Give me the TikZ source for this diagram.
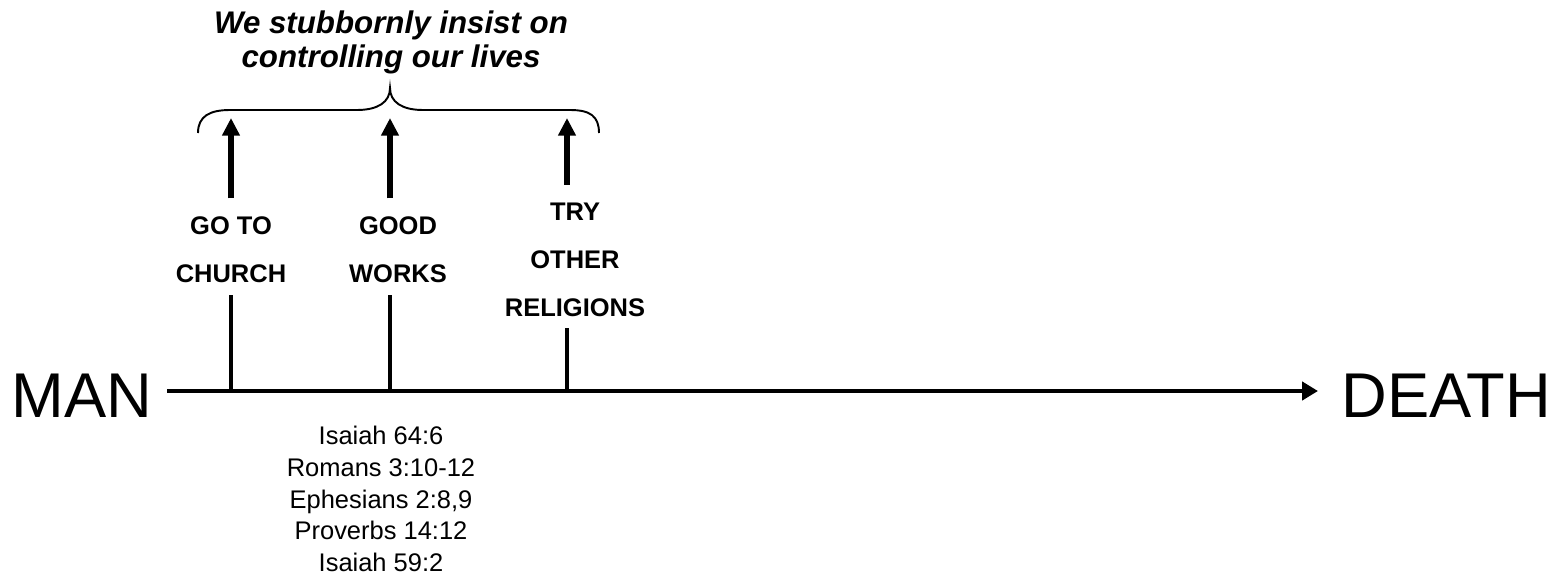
\documentclass[tikz,border=0pt]{standalone}
\usepackage{fontspec}
\setmainfont{Liberation Sans}
\usetikzlibrary{arrows.meta}

\begin{document}
\begin{tikzpicture}[
      x = 0.02cm,
      y = -0.02cm,
      mainline/.style = {line width=2.8pt},
      tick/.style = {line width=2.8pt, shorten >=6.5pt},
      uparrow/.style = {line width=3.4pt, shorten <=10.5pt, -{Triangle[length=10pt,width=9.6pt]}},
      choice/.style = {align=center, inner sep=0, font=\bfseries\fontsize{14.5}{27.2}\selectfont},
      brace/.style = {line width=1.1pt},
  ]

  \useasboundingbox (0,0) rectangle (1563,575);

  \node[anchor=base west, inner sep=0, font=\fontsize{36}{40}\selectfont] (man) at (11,417) {MAN};
  \node[anchor=base west, inner sep=0, font=\fontsize{36}{40}\selectfont] (death) at (1341,417) {DEATH};

  \coordinate (start) at (167,391);
  \coordinate (finish) at (1318,391);
  \draw [mainline, -{Triangle[length=9pt,width=10.2pt]}] (start) -- (finish);

  % the three ways
  \node[choice] (church) at (231,250) {GO TO\\CHURCH};
  \node[choice] (works) at (398,250) {GOOD\\WORKS};
  \node[choice] (religions) at (575,260) {TRY\\OTHER\\RELIGIONS};

  \coordinate (t1) at (231,391);
  \coordinate (t2) at (390,391);
  \coordinate (t3) at (567,391);
  \coordinate (tip1) at (231,118);
  \coordinate (tip2) at (390,118);
  \coordinate (tip3) at (567,118);

  \draw [tick] (t1) -- (t1 |- church.south);
  \draw [tick] (t2) -- (t2 |- works.south);
  \draw [tick] (t3) -- (t3 |- religions.south);

  \draw [uparrow] (tip1 |- church.north) -- (tip1);
  \draw [uparrow] (tip2 |- works.north) -- (tip2);
  \draw [uparrow] (tip3 |- religions.north) -- (tip3);

  % brace over the arrows
  \coordinate (bl) at (198,133);
  \coordinate (bt) at (390,88);
  \coordinate (br) at (599,133);
  \draw [brace] (bl) .. controls (198,116) and (210,110) .. (230,110)
    -- (357,110) .. controls (378,110) and (390,102) .. (bt)
    .. controls (390,102) and (402,110) .. (423,110)
    -- (570,110) .. controls (590,110) and (599,116) .. (br);

  \node[align=center, inner sep=0, font=\bfseries\itshape\fontsize{17.8}{19.3}\selectfont] (title) at (391,42.5)
    {We stubbornly insist on\\controlling our lives};

  \node[align=center, inner sep=0, font=\fontsize{14.5}{18}\selectfont] (refs) at (381,499)
    {Isaiah 64:6\\Romans 3:10-12\\Ephesians 2:8,9\\Proverbs 14:12\\Isaiah 59:2};

  % \node (c0) at (0,0) {};
  % \draw [solid, opacity=0.5] (start) rectangle (finish);

\end{tikzpicture}
\end{document}
